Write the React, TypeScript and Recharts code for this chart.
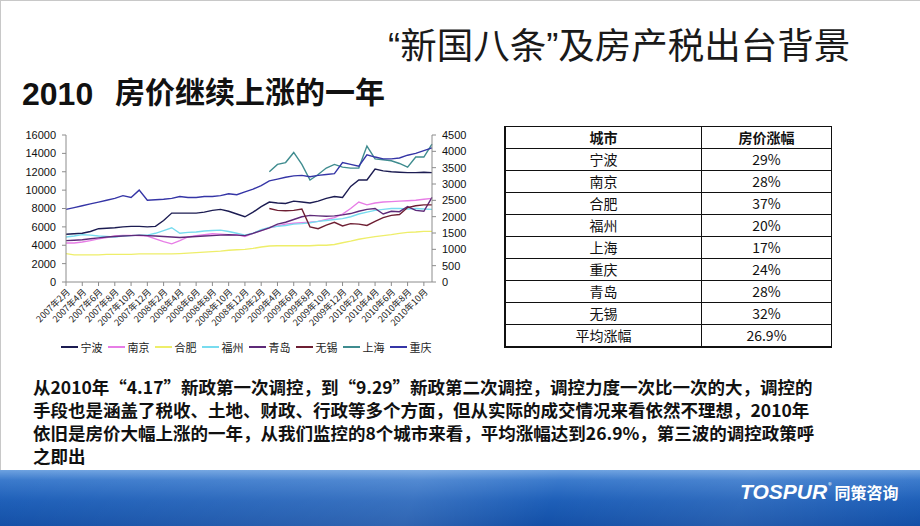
import React from 'react'
import { LineChart, Line, XAxis, YAxis, Legend } from 'recharts'

// ---- data --------------------------------------------------------------
const MONTHS = [
  '2007年2月', '2007年3月', '2007年4月', '2007年5月', '2007年6月', '2007年7月', '2007年8月', '2007年9月',
  '2007年10月', '2007年11月', '2007年12月', '2008年1月', '2008年2月', '2008年3月', '2008年4月', '2008年5月',
  '2008年6月', '2008年7月', '2008年8月', '2008年9月', '2008年10月', '2008年11月', '2008年12月', '2009年1月',
  '2009年2月', '2009年3月', '2009年4月', '2009年5月', '2009年6月', '2009年7月', '2009年8月', '2009年9月',
  '2009年10月', '2009年11月', '2009年12月', '2010年1月', '2010年2月', '2010年3月', '2010年4月', '2010年5月',
  '2010年6月', '2010年7月', '2010年8月', '2010年9月', '2010年10月', '2010年11月',
]

const CITIES = ['宁波', '南京', '合肥', '福州', '青岛', '无锡', '上海', '重庆']
const CITY_COLORS = ['#1c1c52', '#e77de6', '#eeee6a', '#78dcef', '#5e2a78', '#6e1f33', '#3f8c8f', '#3535a6']
// 合肥 is plotted against the secondary (right) axis
const RIGHT_AXIS_CITIES = ['合肥']

const NINGBO = [
  5200, 5250, 5300, 5500, 5800, 5850, 5900, 6000, 6050, 6050,
  6000, 6050, 6700, 7500, 7500, 7500, 7500, 7600, 7800, 7900,
  7700, 7400, 7100, 7600, 8200, 8700, 8600, 8550, 8800, 8700,
  8600, 8800, 9100, 9300, 9200, 10400, 11100, 11100, 12300, 12100,
  12000, 11950, 11900, 11900, 11950, 11900,
]
const NANJING = [
  4240, 4240, 4350, 4500, 4700, 4850, 5000, 5080, 5080, 5050,
  5000, 4700, 4400, 4150, 4500, 4900, 5050, 5150, 5250, 5200,
  5150, 5150, 4950, 5300, 5600, 5900, 6100, 6300, 6400, 6450,
  6500, 6600, 6800, 7000, 7400, 8000, 8700, 8400, 8600, 8700,
  8750, 8800, 8850, 8900, 9000, 9100,
]
// right-axis units
const HEFEI = [
  870, 830, 830, 830, 830, 845, 845, 845, 845, 860,
  860, 860, 860, 860, 870, 885, 900, 915, 930, 945,
  970, 985, 1000, 1030, 1070, 1100, 1110, 1110, 1110, 1110,
  1110, 1125, 1125, 1150, 1200, 1250, 1310, 1350, 1390, 1420,
  1450, 1490, 1520, 1530, 1550, 1550,
]
const FUZHOU = [
  4900, 5000, 5150, 5100, 5000, 4950, 4900, 5000, 5050, 5100,
  5100, 5300, 5600, 5900, 5300, 5400, 5450, 5550, 5600, 5650,
  5500, 5300, 5100, 5300, 5700, 5950, 6050, 6150, 6300, 6350,
  6450, 6600, 6700, 6800, 6900, 7100, 7400, 7600, 7800, 7900,
  8000, 8000, 7950, 8000, 7950, 7900,
]
const QINGDAO = [
  4500, 4550, 4600, 4700, 4800, 4900, 4950, 5000, 5050, 5100,
  5050, 5000, 4950, 4900, 4850, 4900, 4950, 5000, 5050, 5100,
  5150, 5100, 5050, 5300, 5600, 5900, 6300, 6500, 6800, 7100,
  7250, 7200, 7150, 7200, 7300, 7450, 7700, 7900, 8000, 7400,
  7700, 7650, 8200, 7800, 7700, 9200,
]
const WUXI = [
  null, null, null, null, null, null, null, null, null, null,
  null, null, null, null, null, null, null, null, null, null,
  null, null, null, null, null, 8000, 7800, 7750, 7800, 7950,
  6000, 5800, 6200, 6500, 6100, 6350, 6300, 6150, 6600, 7000,
  7250, 7350, 8100, 8300, 8400, 8400,
]
const SHANGHAI = [
  null, null, null, null, null, null, null, null, null, null,
  null, null, null, null, null, null, null, null, null, null,
  null, null, null, null, null, 12000, 12800, 13000, 14100, 12800,
  11100, 11700, 12400, 12800, 12500, 12400, 12400, 14800, 13400, 13300,
  13200, 12900, 12500, 13600, 13600, 15000,
]
const CHONGQING = [
  7900, 8100, 8300, 8500, 8700, 8900, 9100, 9400, 9200, 10000,
  8900, 8950, 9000, 9100, 9300, 9200, 9200, 9300, 9300, 9400,
  9600, 9500, 9800, 10100, 10500, 11000, 11200, 11400, 11550, 11600,
  11450, 11600, 11700, 11800, 13000, 12800, 12600, 13850, 13600, 13400,
  13400, 13500, 13800, 14000, 14300, 14600,
]
const SERIES = [NINGBO, NANJING, HEFEI, FUZHOU, QINGDAO, WUXI, SHANGHAI, CHONGQING]

const LEFT_TICKS = [0, 2000, 4000, 6000, 8000, 10000, 12000, 14000, 16000]
const RIGHT_TICKS = [0, 500, 1000, 1500, 2000, 2500, 3000, 3500, 4000, 4500]

const TABLE_CITIES = ['宁波', '南京', '合肥', '福州', '上海', '重庆', '青岛', '无锡', '平均涨幅']
const TABLE_RISE = ['29%', '28%', '37%', '20%', '17%', '24%', '28%', '32%', '26.9%']

const PARAGRAPH = [
  '从2010年“4.17”新政第一次调控，到“9.29”新政第二次调控，调控力度一次比一次的大，调控的',
  '手段也是涵盖了税收、土地、财政、行政等多个方面，但从实际的成交情况来看依然不理想，2010年',
  '依旧是房价大幅上涨的一年，从我们监控的8个城市来看，平均涨幅达到26.9%，第三波的调控政策呼',
  '之即出',
]

// ---- chart ---------------------------------------------------------------
const CJK = '"Noto Sans CJK SC", "Noto Sans", sans-serif'
const ARIAL = '"Liberation Sans", Arial, "Noto Sans CJK SC", sans-serif'

const rows = MONTHS.map((month, i) => {
  const row: Record<string, string | number | null> = { month }
  CITIES.forEach((city, k) => { row[city] = SERIES[k][i] })
  return row
})

const AXIS_GREY = '#8c8c8c'

function CityLegend() {
  return (
    <div style={{ display: 'flex', justifyContent: 'center', gap: 5, fontSize: 11, fontFamily: CJK, color: '#222', lineHeight: '18px' }}>
      {CITIES.map((c, i) => (
        <span key={c} style={{ display: 'flex', alignItems: 'center' }}>
          <span style={{ width: 17, height: 2, background: CITY_COLORS[i], marginRight: 3 }} />
          {c}
        </span>
      ))}
    </div>
  )
}

function PriceChart() {
  return (
    <LineChart width={460} height={236} data={rows} margin={{ top: 15, right: 8, left: 0, bottom: 0 }}>
      <XAxis
        dataKey="month"
        interval={1}
        angle={-45}
        textAnchor="end"
        height={56}
        tickSize={4}
        stroke={AXIS_GREY}
        tick={{ fontSize: 9, fill: '#222', fontFamily: CJK }}
      />
      <YAxis
        yAxisId="left"
        domain={[0, 16000]}
        ticks={LEFT_TICKS}
        interval={0}
        width={46}
        tickSize={4}
        tickMargin={6}
        stroke={AXIS_GREY}
        tick={{ fontSize: 11, fill: '#111', fontFamily: ARIAL }}
      />
      <YAxis
        yAxisId="right"
        orientation="right"
        domain={[0, 4500]}
        ticks={RIGHT_TICKS}
        interval={0}
        width={40}
        tickSize={4}
        tickMargin={6}
        stroke={AXIS_GREY}
        tick={{ fontSize: 11, fill: '#111', fontFamily: ARIAL }}
      />
      <Legend verticalAlign="bottom" content={() => <CityLegend />} />
      {CITIES.map((city, i) => (
        <Line
          key={city}
          yAxisId={RIGHT_AXIS_CITIES.includes(city) ? 'right' : 'left'}
          type="linear"
          dataKey={city}
          stroke={CITY_COLORS[i]}
          strokeWidth={1.4}
          dot={false}
          connectNulls={false}
          isAnimationActive={false}
        />
      ))}
    </LineChart>
  )
}

function RiseTable() {
  const cell: React.CSSProperties = {
    border: '1px solid #111', height: 21, padding: 0, textAlign: 'center', fontSize: 14, lineHeight: '21px',
  }
  return (
    <table style={{ position: 'absolute', left: 504, top: 126, width: 328, borderCollapse: 'collapse', fontFamily: CJK, color: '#111', borderLeft: '2px solid #111', borderBottom: '2px solid #111' }}>
      <tbody>
        <tr>
          <td style={{ ...cell, width: 195, fontWeight: 700 }}>城市</td>
          <td style={{ ...cell, fontWeight: 700 }}>房价涨幅</td>
        </tr>
        {TABLE_CITIES.map((c, i) => (
          <tr key={c}>
            <td style={cell}>{c}</td>
            <td style={cell}>{TABLE_RISE[i]}</td>
          </tr>
        ))}
      </tbody>
    </table>
  )
}

export default function App() {
  const quote: React.CSSProperties = { fontFamily: ARIAL }
  return (
    <div style={{ position: 'absolute', left: 0, top: 0, width: 920, height: 526, background: '#fff', overflow: 'hidden', fontFamily: CJK }}>
      <div style={{ position: 'absolute', left: 0, top: 0, width: 919, height: 470, borderLeft: '1px solid #c8c8c8', borderTop: '1px solid #c8c8c8' }} />
      <div style={{ position: 'absolute', left: 388, top: 22, fontSize: 36.5, lineHeight: '44px', color: '#1a1a1a', whiteSpace: 'nowrap' }}>
        <span style={quote}>“</span>新国八条<span style={quote}>”</span>及房产税出台背景
      </div>
      <div style={{ position: 'absolute', left: 22, top: 72, fontSize: 32, lineHeight: '38px', fontWeight: 700, color: '#111', whiteSpace: 'nowrap' }}>
        <span style={{ fontFamily: ARIAL }}>2010</span>
      </div>
      <div style={{ position: 'absolute', left: 115, top: 70, fontSize: 30, lineHeight: '40px', fontWeight: 700, color: '#111', whiteSpace: 'nowrap' }}>
        房价继续上涨的一年
      </div>

      <div style={{ position: 'absolute', left: 20, top: 120 }}>
        <PriceChart />
      </div>

      <RiseTable />

      {PARAGRAPH.map((line, i) => (
        <div
          key={i}
          style={{
            position: 'absolute', left: 33, top: 375 + i * 23, width: i < 3 ? 767 : undefined,
            fontSize: 17.5, lineHeight: '23px', fontWeight: 700, color: '#111', whiteSpace: 'nowrap',
            textAlign: 'justify', textAlignLast: i < 3 ? 'justify' : 'left',
          }}
        >
          {line}
        </div>
      ))}

      <div style={{ position: 'absolute', left: 0, top: 470, width: 920, height: 56, background: 'linear-gradient(180deg, #6ea2e0 0%, #3b7acc 18%, #1e5fb8 55%, #134fa6 100%)' }}>
        <div style={{ position: 'absolute', left: 0, top: 0, width: 920, height: 56, background: 'linear-gradient(110deg, rgba(255,255,255,0) 0%, rgba(255,255,255,0.12) 45%, rgba(255,255,255,0) 60%, rgba(255,255,255,0.08) 80%, rgba(255,255,255,0) 100%)' }} />
        <div style={{ position: 'absolute', left: 740, top: 10, color: '#fff', whiteSpace: 'nowrap', display: 'flex', alignItems: 'baseline' }}>
          <span style={{ fontFamily: ARIAL, fontWeight: 700, fontStyle: 'italic', fontSize: 21 }}>TOSPUR</span>
          <span style={{ fontSize: 7, marginLeft: 1, alignSelf: 'flex-start' }}>®</span>
          <span style={{ fontSize: 16, fontWeight: 700, marginLeft: 3 }}>同策咨询</span>
        </div>
      </div>
    </div>
  )
}
